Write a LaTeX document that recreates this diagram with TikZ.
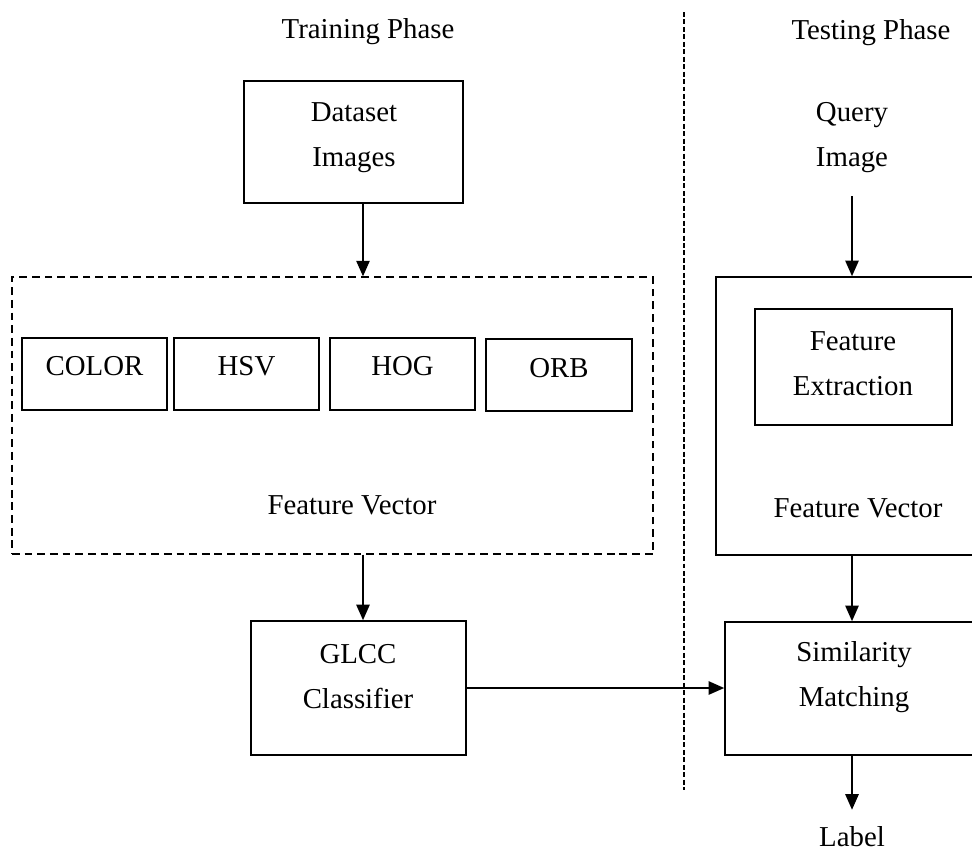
\documentclass[tikz,border=0pt]{standalone}
\usepackage{fontspec}
\setmainfont{Liberation Serif}
\usetikzlibrary{arrows.meta, fit}

\begin{document}
\begin{tikzpicture}[x=0.025cm, y=-0.025cm,
    box/.style={draw, line width=1.2pt, inner sep=0pt},
    dbox/.style={draw, line width=1pt, dash pattern=on 5.5pt off 3.5pt, inner sep=0pt},
    sep/.style={line width=1.1pt, dash pattern=on 3.5pt off 1.8pt},
    txt/.style={align=center, font=\fontsize{20.5}{32}\selectfont},
    arr/.style={-{Triangle[length=11pt,width=9.5pt]}, line width=1pt}]
    \useasboundingbox (0,0) rectangle (972,855);
    \clip (0,0) rectangle (972,855);

    \coordinate (lcol) at (363,0);
    \coordinate (rcol) at (852,0);

    \node[txt] (train) at (368,32) {Training Phase};
    \node[txt] (test) at (871,33) {Testing Phase};
    \draw[sep] (684,12) -- (684,790);

    % training side
    \node[box, fit={(244,81) (463,203)}] (data) {};
    \node[txt] (datatxt) at (354,138) {Dataset\\Images};

    \node[dbox, fit={(12,277) (653,554)}] (fv) {};
    \node[box, fit={(22,338) (167,410)}] (colr) {};
    \node[box, fit={(174,338) (319,410)}] (hsv) {};
    \node[box, fit={(330,338) (475,410)}] (hog) {};
    \node[box, fit={(486,339) (632,411)}] (orb) {};
    \node[txt] (colrtxt) at (colr.center |- 0,366) {COLOR};
    \node[txt] (hsvtxt) at (hsv.center |- 0,366) {HSV};
    \node[txt] (hogtxt) at (hog.center |- 0,366) {HOG};
    \node[txt] (orbtxt) at (orb.center |- 0,368) {ORB};
    \node[txt] (fvtxt) at (352,505) {Feature Vector};

    \node[box, fit={(251,621) (466,755)}] (glcc) {};
    \node[txt] (glcctxt) at (358,677) {GLCC\\Classifier};

    % testing side
    \node[txt] (query) at (852,138) {Query\\Image};
    \node[box, fit={(716,277) (990,555)}] (fe) {};
    \node[box, fit={(755,309) (952,425)}] (ext) {};
    \node[txt] (exttxt) at (853,364) {Feature\\Extraction};
    \node[txt] (fetxt) at (858,508) {Feature Vector};
    \node[box, fit={(725,622) (990,755)}] (sim) {};
    \node[txt] (simtxt) at (854,677) {Similarity\\Matching};
    \node[txt, inner sep=2pt] (lbl) at (852,837) {Label};

    \draw[arr] (data.south -| lcol) -- (fv.north -| lcol);
    \draw[arr] (fv.south -| lcol) -- (glcc.north -| lcol);
    \draw[arr] (glcc.east) -- (glcc.east -| sim.west);
    \draw[arr, shorten <=13pt] (query.south) -- (fe.north -| rcol);
    \draw[arr] (fe.south -| rcol) -- (sim.north -| rcol);
    \draw[arr, shorten >=10pt] (sim.south -| rcol) -- (lbl.north);
\end{tikzpicture}
\end{document}
